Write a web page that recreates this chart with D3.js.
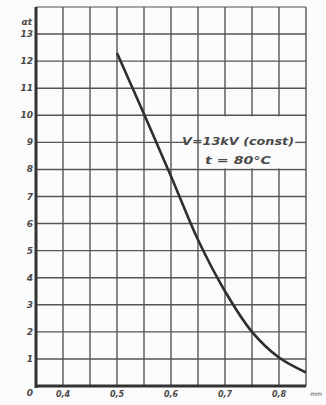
<!DOCTYPE html>
<html>
<head>
<meta charset="utf-8">
<script src="https://cdn.jsdelivr.net/npm/d3@7"></script>
<style>
  body { margin: 0; background: #fbfbfb; }
  text { font-family: "DejaVu Sans", sans-serif; font-style: italic; font-weight: bold; fill: #4a4a4a; }
</style>
</head>
<body>
<div id="chart"></div>
<script>
// 読み取った値
const xTicks = [0.4, 0.5, 0.6, 0.7, 0.8];
const xTickLabels = ['0,4', '0,5', '0,6', '0,7', '0,8'];
const yTicks = [1, 2, 3, 4, 5, 6, 7, 8, 9, 10, 11, 12, 13];
const curveX = [0.50, 0.55, 0.60, 0.65, 0.70, 0.75, 0.80, 0.85];
const curveY = [12.3, 10.05, 7.75, 5.4, 3.5, 2.0, 1.05, 0.5];
const noteLines = ['V=13kV (const)', 't = 80°C'];

const width = 326, height = 405;
const bg = '#fbfbfb';

const x = d3.scaleLinear().domain([0.35, 0.85]).range([36, 306]);
const y = d3.scaleLinear().domain([0, 14]).range([386, 7]);

const svg = d3.select('#chart')
  .append('svg')
  .attr('width', width)
  .attr('height', height)
  .style('background-color', bg);

// 方眼（横線）
const gridX = d3.range(0.35, 0.8501, 0.05);
const gridY = d3.range(0, 15);

svg.append('g')
  .selectAll('line')
  .data(gridY)
  .enter()
  .append('line')
  .attr('x1', x(0.35))
  .attr('x2', x(0.85))
  .attr('y1', d => y(d))
  .attr('y2', d => y(d))
  .attr('stroke', d => d === 14 ? '#8a8a8a' : '#555')
  .attr('stroke-width', 1.4);

// "V=" の下の線を少し消す
svg.append('rect')
  .attr('x', 185).attr('y', y(9) - 4)
  .attr('width', x(0.65) - 185).attr('height', 8)
  .attr('fill', bg);

// 方眼（縦線）
svg.append('g')
  .selectAll('line')
  .data(gridX)
  .enter()
  .append('line')
  .attr('x1', d => x(d))
  .attr('x2', d => x(d))
  .attr('y1', y(14))
  .attr('y2', y(0))
  .attr('stroke', '#555')
  .attr('stroke-width', 1.4);

// 注記の枠の中の線を消す
svg.append('rect')
  .attr('x', x(0.65) + 1)
  .attr('y', y(10) + 1)
  .attr('width', x(0.85) - x(0.65) - 2)
  .attr('height', y(8) - y(10) - 2)
  .attr('fill', bg);

svg.append('line')
  .attr('x1', x(0.83))
  .attr('x2', x(0.85))
  .attr('y1', y(9))
  .attr('y2', y(9))
  .attr('stroke', '#555')
  .attr('stroke-width', 1.4);

// 軸
svg.append('line')
  .attr('x1', x(0.35)).attr('x2', x(0.35))
  .attr('y1', y(14)).attr('y2', y(0) + 2)
  .attr('stroke', '#333').attr('stroke-width', 3);

svg.append('line')
  .attr('x1', x(0.35)).attr('x2', x(0.85))
  .attr('y1', y(0)).attr('y2', y(0))
  .attr('stroke', '#333').attr('stroke-width', 3);

// 目盛りラベル
svg.append('g')
  .selectAll('text')
  .data(yTicks)
  .enter()
  .append('text')
  .attr('x', 33)
  .attr('y', d => y(d) + 3)
  .attr('text-anchor', 'end')
  .attr('font-size', 9)
  .text(d => d);

svg.append('text')
  .attr('x', 30).attr('y', 396)
  .attr('text-anchor', 'middle')
  .attr('font-size', 9)
  .text('0');

svg.append('text')
  .attr('x', 32).attr('y', 25)
  .attr('text-anchor', 'end')
  .attr('font-size', 9)
  .text('αt');

svg.append('g')
  .selectAll('text')
  .data(xTicks)
  .enter()
  .append('text')
  .attr('x', d => x(d))
  .attr('y', 397)
  .attr('text-anchor', 'middle')
  .attr('font-size', 8)
  .text((d, i) => xTickLabels[i]);

svg.append('text')
  .attr('x', 316).attr('y', 396)
  .attr('text-anchor', 'middle')
  .attr('font-size', 6)
  .style('font-weight', 'normal')
  .text('mm');

// 曲線
const pts = curveX.map((v, i) => [v, curveY[i]]);
svg.append('path')
  .datum(pts)
  .attr('fill', 'none')
  .attr('stroke', '#2e2e2e')
  .attr('stroke-width', 2.6)
  .attr('d', d3.line()
    .x(d => x(d[0]))
    .y(d => y(d[1]))
    .curve(d3.curveCatmullRom));

// 注記
svg.append('text')
  .attr('x', 182).attr('y', 145)
  .attr('font-size', 10)
  .attr('textLength', 112)
  .attr('lengthAdjust', 'spacingAndGlyphs')
  .text(noteLines[0]);

svg.append('text')
  .attr('x', 205).attr('y', 164)
  .attr('font-size', 10)
  .attr('textLength', 66)
  .attr('lengthAdjust', 'spacingAndGlyphs')
  .text(noteLines[1]);
</script>
</body>
</html>
